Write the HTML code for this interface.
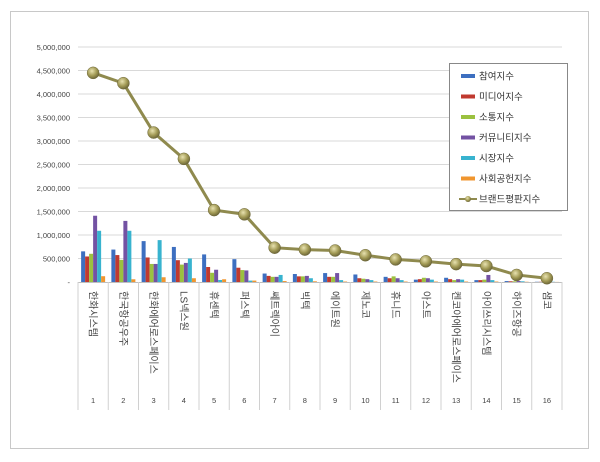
<!DOCTYPE html>
<html><head><meta charset="utf-8">
<style>
body{margin:0;background:#fff;width:600px;height:457px;overflow:hidden;font-family:"Liberation Sans","Noto Sans CJK KR",sans-serif}
svg text{font-family:"Liberation Sans","Noto Sans CJK KR",sans-serif}
</style></head><body>
<svg id="chart" width="600" height="457" viewBox="0 0 600 457">
<defs>
<radialGradient id="dot" cx="40%" cy="35%" r="65%"><stop offset="0" stop-color="#e8e2b0"/><stop offset="0.6" stop-color="#a29a55"/><stop offset="1" stop-color="#6e683a"/></radialGradient>
</defs>
<rect x="10.5" y="11.5" width="578" height="437" fill="#fff" stroke="#c8c8c8"/>
<g id="grid"></g><g id="axes"></g><g id="bars"></g><g id="line"></g>
<g id="legend"></g>
</svg>
<script>
const categories=["한화시스템","한국항공우주","한화에어로스페이스","LS넥스원","휴센텍","퍼스텍","쎄트렉아이","빅텍","에이트원","제노코","휴니드","아스트","켄코아에어로스페이스","아이쓰리시스템","하이즈항공","샘코"];
const participation=[652000,690000,870000,746000,587000,486000,180000,170000,190000,160000,110000,50000,90000,40000,20000,5000];
const media=[543000,573000,522000,464000,319000,304000,130000,120000,110000,80000,80000,60000,60000,40000,15000,5000];
const communication=[600000,471000,384000,370000,196000,254000,110000,120000,110000,70000,120000,90000,40000,50000,15000,5000];
const community=[1410000,1300000,384000,406000,261000,246000,110000,130000,190000,60000,80000,80000,60000,150000,20000,5000];
const market=[1090000,1090000,891000,500000,43000,30000,150000,80000,40000,40000,40000,50000,50000,40000,15000,5000];
const social=[123000,58000,101000,80000,58000,30000,20000,15000,10000,10000,10000,10000,10000,10000,5000,2000];
const brandIndex=[4450000,4230000,3180000,2620000,1530000,1440000,730000,690000,670000,570000,480000,440000,380000,340000,150000,80000];
const yTicks=[0,500000,1000000,1500000,2000000,2500000,3000000,3500000,4000000,4500000,5000000];
const yTickLabels=["-","500,000","1,000,000","1,500,000","2,000,000","2,500,000","3,000,000","3,500,000","4,000,000","4,500,000","5,000,000"];
const seriesNames=["참여지수","미디어지수","소통지수","커뮤니티지수","시장지수","사회공헌지수"];
const seriesColors=["#3d6fc0","#c0392f","#9bc13f","#7352a3","#38b3cf","#f0962f"];
const seriesData=[participation,media,communication,community,market,social];

const NS="http://www.w3.org/2000/svg";
const L=78,R=562,T=47,B=282;
const y=v=>B-(v/5000000)*(B-T);
const step=(R-L)/categories.length;
const xc=i=>L+step*(i+0.5);
function mk(tag,attrs,parent){const e=document.createElementNS(NS,tag);for(const k in attrs)e.setAttribute(k,attrs[k]);document.getElementById(parent).appendChild(e);return e;}

yTicks.forEach((t,i)=>{
 if(i>0){const g=mk('line',{x1:L,x2:R,y1:y(t),y2:y(t),stroke:'#d9d9d9','stroke-width':1},'grid');
 
 }
 const tx=mk('text',{x:L-8,y:y(t)+3,'text-anchor':'end','font-size':7.5,fill:'#444'},'axes');
 tx.textContent=yTickLabels[i];
 
 
});
const ax=mk('line',{x1:L,x2:R,y1:B+0.5,y2:B+0.5,stroke:'#bfbfbf'},'axes');


for(let i=0;i<=categories.length;i++){
 const s=mk('line',{x1:L+step*i,x2:L+step*i,y1:B,y2:410,stroke:'#d0d0d0'},'axes');
 
 
}
categories.forEach((c,i)=>{
 const t=mk('text',{x:0,y:0,'font-size':10,fill:'#444',transform:`translate(${xc(i)-3.5},291) rotate(90)`},'axes');
 t.textContent=c;
 
 
 const n=mk('text',{x:xc(i),y:403,'text-anchor':'middle','font-size':7.5,fill:'#444'},'axes');
 n.textContent=String(i+1);
 
 
});
const bw=4;
seriesData.forEach((arr,s)=>{
 arr.forEach((v,i)=>{
  const x=xc(i)-12+s*bw;
  const r=mk('rect',{x:x,y:y(v),width:bw,height:B-y(v),fill:seriesColors[s]},'bars');
  
  
 });
});
const pts=brandIndex.map((v,i)=>xc(i)+','+y(v)).join(' ');
const pl=mk('polyline',{points:pts,fill:'none',stroke:'#8f8a4e','stroke-width':3},'line');


brandIndex.forEach((v,i)=>{
 const c=mk('circle',{cx:xc(i),cy:y(v),r:6,fill:'url(#dot)',stroke:'#6e683a','stroke-width':0.5},'line');
 
 
});
// legend
const lb=mk('rect',{x:449.5,y:63.5,width:118,height:147,fill:'#fff',stroke:'#888'},'legend');


const names=seriesNames.concat(["브랜드평판지수"]);
names.forEach((n,i)=>{
 const yy=76+i*20.5;
 if(i<6){const sw=mk('rect',{x:461,y:yy-2,width:14,height:4,fill:seriesColors[i]},'legend');
  
  }
 else{const ln=mk('line',{x1:459,x2:477,y1:yy,y2:yy,stroke:'#8f8a4e','stroke-width':2},'legend');
  
  
  const d=mk('circle',{cx:468,cy:yy,r:3,fill:'url(#dot)'},'legend');
  
  }
 const t=mk('text',{x:479,y:yy+3.5,'font-size':9.5,fill:'#333'},'legend');
 t.textContent=n;
 
 
});
</script>
</body></html>
